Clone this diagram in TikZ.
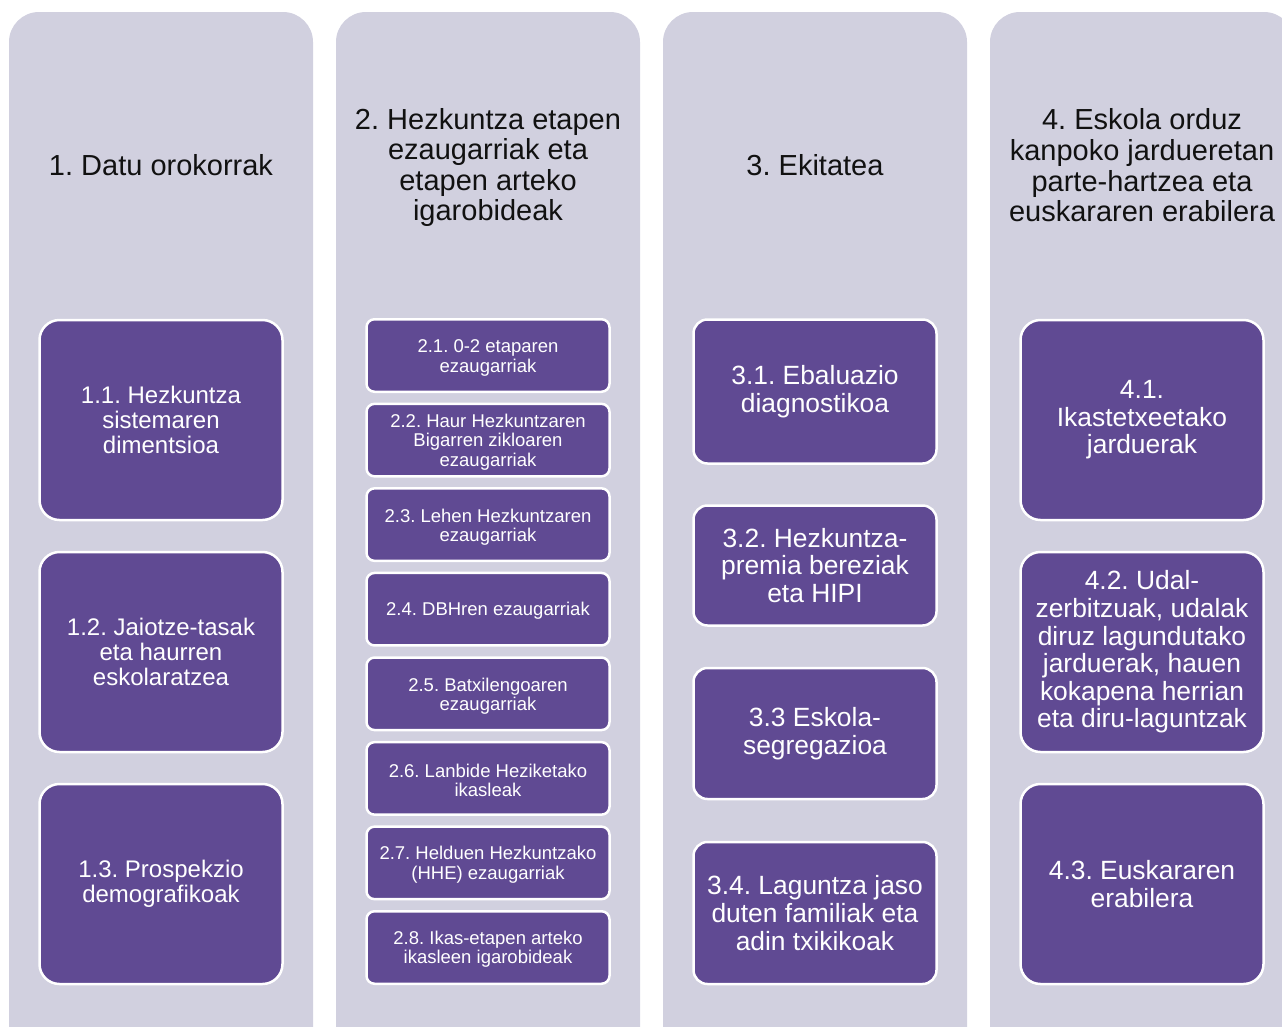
\documentclass[tikz,border=0pt]{standalone}
\usepackage{fontspec}
\setmainfont{Liberation Sans}
\frenchspacing
\definecolor{lav}{RGB}{209,208,223}
\definecolor{purp}{RGB}{96,74,147}
\definecolor{hdr}{RGB}{17,17,17}
\tikzset{
  colbg/.style={fill=lav, rounded corners=30pt},
  hdrtext/.style={text=hdr, align=center, inner sep=0pt, font=\fontsize{29}{30.6}\selectfont},
  pbox/.style={fill=purp, draw=white, line width=2.5pt, text=white, align=center, inner sep=0pt},
  btxt/.style={text=white, align=center, inner sep=0pt},
  fa/.style={font=\fontsize{24}{25}\selectfont},
  fb/.style={font=\fontsize{18.5}{19.4}\selectfont},
  fc/.style={font=\fontsize{26.4}{27.6}\selectfont},
}
\begin{document}
\begin{tikzpicture}[x=1pt,y=-1pt]
\useasboundingbox (0,0) rectangle (1282,1026);
\clip (0,0) rectangle (1282,1026);
% columns
\fill[colbg] (9,12) rectangle (313,1060);
\fill[colbg] (336,12) rectangle (640,1060);
\fill[colbg] (663,12) rectangle (967,1060);
\fill[colbg] (990,12) rectangle (1294,1060);
% headers
\node[hdrtext] (h1) at (161,165) {1. Datu orokorrak};
\node[hdrtext] (h2) at (488,167.5) {2. Hezkuntza etapen\\ezaugarriak eta\\etapen arteko\\igarobideak};
\node[hdrtext] (h3) at (815,165) {3. Ekitatea};
\node[hdrtext] (h4) at (1142,165.5) {4. Eskola orduz\\kanpoko jardueretan\\parte-hartzea eta\\euskararen erabilera};
% column 1
\begin{scope}[every node/.style={pbox, fa, minimum width=243pt, minimum height=200pt, rounded corners=20pt}]
\node (b11) at (161,420) {1.1. Hezkuntza\\sistemaren\\dimentsioa};
\node (b12) at (161,652) {1.2. Jaiotze-tasak\\eta haurren\\eskolaratzea};
\node (b13) at (161,884) {1.3. Prospekzio\\demografikoak};
\end{scope}
% column 2
\begin{scope}[every node/.style={pbox, minimum width=243pt, minimum height=72.5pt, rounded corners=8pt}]
\node (b21) at (488,355.5) {};
\node (b22) at (488,440.1) {};
\node (b23) at (488,524.6) {};
\node (b24) at (488,609.2) {};
\node (b25) at (488,693.8) {};
\node (b26) at (488,778.4) {};
\node (b27) at (488,862.9) {};
\node (b28) at (488,947.5) {};
\end{scope}
\begin{scope}[every node/.style={btxt, fb}]
\node (t21) at ([yshift=-2.5pt]b21.center) {2.1. 0-2 etaparen\\ezaugarriak};
\node (t22) at ([yshift=-2pt]b22.center) {2.2. Haur Hezkuntzaren\\Bigarren zikloaren\\ezaugarriak};
\node (t23) at ([yshift=-2.5pt]b23.center) {2.3. Lehen Hezkuntzaren\\ezaugarriak};
\node (t24) at ([yshift=-2pt]b24.center) {2.4. DBHren ezaugarriak};
\node (t25) at ([yshift=-2.5pt]b25.center) {2.5. Batxilengoaren\\ezaugarriak};
\node (t26) at ([yshift=-2pt]b26.center) {2.6. Lanbide Heziketako\\ikasleak};
\node (t27) at ([yshift=-2pt]b27.center) {2.7. Helduen Hezkuntzako\\(HHE) ezaugarriak};
\node (t28) at ([yshift=-2pt]b28.center) {2.8. Ikas-etapen arteko\\ikasleen igarobideak};
\end{scope}
% column 3
\begin{scope}[every node/.style={pbox, fc, minimum width=243pt, rounded corners=14pt}]
\node[minimum height=144pt] (b31) at (815,391.5) {3.1. Ebaluazio\\diagnostikoa};
\node[minimum height=120pt] (b32) at (815,565.5) {3.2. Hezkuntza-\\premia bereziak\\eta HIPI};
\node[minimum height=131pt] (b33) at (815,733.5) {3.3 Eskola-\\segregazioa};
\node[minimum height=142pt] (b34) at (815,913) {3.4. Laguntza jaso\\duten familiak eta\\adin txikikoak};
\end{scope}
% column 4
\begin{scope}[every node/.style={pbox, fc, minimum width=243pt, minimum height=200pt, rounded corners=20pt}]
\node (b41) at (1142,420) {4.1.\\Ikastetxeetako\\jarduerak};
\node (b42) at (1142,652) {4.2. Udal-\\zerbitzuak, udalak\\diruz lagundutako\\jarduerak, hauen\\kokapena herrian\\eta diru-laguntzak};
\node (b43) at (1142,884) {4.3. Euskararen\\erabilera};
\end{scope}
\end{tikzpicture}
\end{document}
